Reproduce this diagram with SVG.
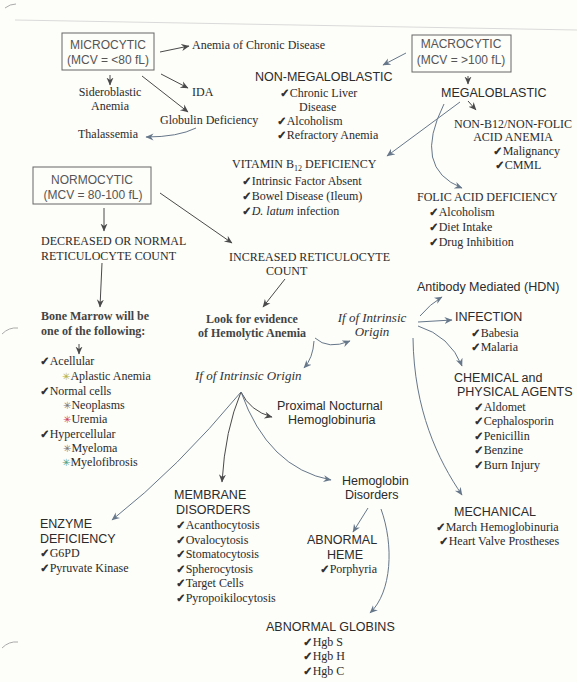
<svg xmlns="http://www.w3.org/2000/svg" width="577" height="682" viewBox="0 0 577 682">
<defs>
<style>
.s{font-family:"Liberation Serif","Times New Roman",serif;font-size:12px;fill:#2b2b2b}
.sb{font-family:"Liberation Serif","Times New Roman",serif;font-size:12px;font-weight:bold;fill:#444}
.i{font-family:"Liberation Serif","Times New Roman",serif;font-size:13px;font-style:italic;fill:#333}
.a{font-family:"Liberation Sans",Arial,sans-serif;font-size:12.5px;fill:#2b2b2b}
.bt{font-family:"Liberation Sans",Arial,sans-serif;font-size:12px;fill:#555;text-anchor:middle}
.ck{font-family:"DejaVu Sans",sans-serif;font-size:11.5px;fill:#2b2b2b;stroke:#2b2b2b;stroke-width:0.7;font-style:normal}
.st{font-family:"DejaVu Sans",sans-serif;font-size:10px}
.box{fill:none;stroke:#666;stroke-width:1}
.c{fill:none;stroke:#4a4a4a;stroke-width:1;marker-end:url(#ah)}
.cb{fill:none;stroke:#66778a;stroke-width:1;marker-end:url(#ahb)}
.m{fill:none;stroke:#aaa;stroke-width:1}
</style>
<marker id="ah" markerWidth="10" markerHeight="10" refX="7.5" refY="4" orient="auto" markerUnits="userSpaceOnUse"><path d="M0,0.5 L8,4 L0,7.5 L2.5,4 Z" fill="#4a4a4a"/></marker>
<marker id="ahb" markerWidth="10" markerHeight="10" refX="7.5" refY="4" orient="auto" markerUnits="userSpaceOnUse"><path d="M0,0.5 L8,4 L0,7.5 L2.5,4 Z" fill="#66778a"/></marker>
</defs>
<rect width="577" height="682" fill="#fdfdf9"/>
<line x1="15" y1="20" x2="577" y2="30" stroke="#dadada" stroke-width="1"/>
<path class="m" d="M5,8 Q10,4 16,4"/>
<path class="m" d="M2,334 Q9,327 18,328"/>
<path class="m" d="M2,648 Q9,641 18,642"/>

<g id="connectors">
<path class="c" d="M160,52 L189,46"/>
<path class="c" d="M161,74 L188,88"/>
<path class="c" d="M142,76 L188,112"/>
<path class="c" d="M110,75 L110,85"/>
<path class="cb" d="M196,128 Q178,137 146,137"/>
<path class="cb" d="M406,53 L383,65"/>
<path class="c" d="M468,76 L468,84"/>
<path class="c" d="M468,101 L476,110"/>
<path class="cb" d="M460,102 L387,156"/>
<path class="cb" d="M444,104 Q412,168 462,188"/>
<path class="c" d="M104,208 L104,231"/>
<path class="c" d="M102,263 L100,307"/>
<path class="c" d="M160,193 L232,243"/>
<path class="c" d="M285,279 L263,307"/>
<path class="c" d="M79,344 L79,354"/>
<path class="cb" d="M315,338 Q328,350 350,341"/>
<path class="cb" d="M314,341 Q313,358 304,368"/>
<path class="cb" d="M420,316 Q430,304 442,297"/>
<path class="cb" d="M418,322 L452,320"/>
<path class="cb" d="M418,326 Q450,336 462,366"/>
<path class="cb" d="M413,338 C414,410 438,460 462,495"/>
<path class="c" d="M241,392 Q250,411 272,417"/>
<path class="c" d="M241,392 Q225,430 222,482"/>
<path class="cb" d="M241,392 Q178,468 112,520"/>
<path class="cb" d="M241,392 Q268,468 331,480"/>
<path class="cb" d="M368,508 L353,532"/>
<path class="cb" d="M381,509 C394,545 392,592 370,613"/>
</g>

<g id="microcytic">
<rect class="box" x="62" y="33" width="92" height="37"/>
<text class="bt" x="108" y="49">MICROCYTIC</text>
<text class="bt" x="108" y="64">(MCV = &lt;80 fL)</text>
</g>
<g id="anemia-chronic"><text class="s" x="192" y="49">Anemia of Chronic Disease</text></g>
<g id="ida"><text class="s" x="192" y="96">IDA</text></g>
<g id="sideroblastic">
<text class="s" x="110" y="96" text-anchor="middle">Sideroblastic</text>
<text class="s" x="110" y="110" text-anchor="middle">Anemia</text>
</g>
<g id="globulin"><text class="s" x="160" y="124">Globulin Deficiency</text></g>
<g id="thalassemia"><text class="s" x="78" y="138">Thalassemia</text></g>

<g id="macrocytic">
<rect class="box" x="412" y="35" width="99" height="37"/>
<text class="bt" x="461" y="48">MACROCYTIC</text>
<text class="bt" x="461" y="64">(MCV = &gt;100 fL)</text>
</g>
<g id="non-megaloblastic">
<text class="a" x="255" y="81">NON-MEGALOBLASTIC</text>
<text class="s" x="280" y="97"><tspan class="ck">✓</tspan>Chronic Liver</text>
<text class="s" x="299" y="111">Disease</text>
<text class="s" x="277" y="125"><tspan class="ck">✓</tspan>Alcoholism</text>
<text class="s" x="277" y="139"><tspan class="ck">✓</tspan>Refractory Anemia</text>
</g>
<g id="megaloblastic"><text class="a" x="441" y="97">MEGALOBLASTIC</text></g>
<g id="non-b12">
<text class="s" x="454" y="128">NON-B12/NON-FOLIC</text>
<text class="s" x="513" y="141" text-anchor="middle">ACID ANEMIA</text>
<text class="s" x="493" y="155"><tspan class="ck">✓</tspan>Malignancy</text>
<text class="s" x="495" y="169"><tspan class="ck">✓</tspan>CMML</text>
</g>
<g id="vitamin-b12">
<text class="s" x="232" y="168">VITAMIN B<tspan font-size="8" dy="3">12</tspan><tspan dy="-3"> DEFICIENCY</tspan></text>
<text class="s" x="242" y="185"><tspan class="ck">✓</tspan>Intrinsic Factor Absent</text>
<text class="s" x="242" y="200"><tspan class="ck">✓</tspan>Bowel Disease (Ileum)</text>
<text class="s" x="242" y="215"><tspan class="ck">✓</tspan><tspan font-style="italic">D. latum</tspan> infection</text>
</g>
<g id="folic">
<text class="s" x="417" y="201">FOLIC ACID DEFICIENCY</text>
<text class="s" x="429" y="216"><tspan class="ck">✓</tspan>Alcoholism</text>
<text class="s" x="429" y="231"><tspan class="ck">✓</tspan>Diet Intake</text>
<text class="s" x="429" y="246"><tspan class="ck">✓</tspan>Drug Inhibition</text>
</g>

<g id="normocytic">
<rect class="box" x="33" y="167" width="118" height="37"/>
<text class="bt" x="92" y="184">NORMOCYTIC</text>
<text class="bt" x="93" y="199">(MCV = 80-100 fL)</text>
</g>
<g id="decreased">
<text class="s" x="41" y="245">DECREASED OR NORMAL</text>
<text class="s" x="41" y="260">RETICULOCYTE COUNT</text>
</g>
<g id="bone-marrow">
<text class="sb" x="41" y="320">Bone Marrow will be</text>
<text class="sb" x="41" y="335">one of the following:</text>
<text class="s" x="40" y="365"><tspan class="ck">✓</tspan>Acellular</text>
<text class="s" x="62" y="380"><tspan class="st" fill="#b5b040">✳</tspan>Aplastic Anemia</text>
<text class="s" x="40" y="395"><tspan class="ck">✓</tspan>Normal cells</text>
<text class="s" x="63" y="409"><tspan class="st" fill="#777">✳</tspan>Neoplasms</text>
<text class="s" x="63" y="423"><tspan class="st" fill="#d04060">✳</tspan>Uremia</text>
<text class="s" x="40" y="438"><tspan class="ck">✓</tspan>Hypercellular</text>
<text class="s" x="63" y="452"><tspan class="st" fill="#777">✳</tspan>Myeloma</text>
<text class="s" x="62" y="466"><tspan class="st" fill="#50a080">✳</tspan>Myelofibrosis</text>
</g>
<g id="increased">
<text class="s" x="229" y="261">INCREASED RETICULOCYTE</text>
<text class="s" x="266" y="275">COUNT</text>
</g>
<g id="look-for">
<text class="sb" x="252" y="323" text-anchor="middle">Look for evidence</text>
<text class="sb" x="252" y="337" text-anchor="middle">of Hemolytic Anemia</text>
</g>
<g id="extrinsic-origin">
<text class="i" x="372" y="322" text-anchor="middle">If of Intrinsic</text>
<text class="i" x="372" y="336" text-anchor="middle">Origin</text>
</g>
<g id="intrinsic-origin"><text class="i" x="195" y="380">If of Intrinsic Origin</text></g>
<g id="antibody"><text class="a" x="417" y="291">Antibody Mediated (HDN)</text></g>
<g id="infection">
<text class="a" x="455" y="321">INFECTION</text>
<text class="s" x="471" y="337"><tspan class="ck">✓</tspan>Babesia</text>
<text class="s" x="471" y="351"><tspan class="ck">✓</tspan>Malaria</text>
</g>
<g id="chemical">
<text class="a" x="454" y="382">CHEMICAL and</text>
<text class="a" x="457" y="396">PHYSICAL AGENTS</text>
<text class="s" x="474" y="411"><tspan class="ck">✓</tspan>Aldomet</text>
<text class="s" x="474" y="425"><tspan class="ck">✓</tspan>Cephalosporin</text>
<text class="s" x="474" y="440"><tspan class="ck">✓</tspan>Penicillin</text>
<text class="s" x="474" y="454"><tspan class="ck">✓</tspan>Benzine</text>
<text class="s" x="474" y="469"><tspan class="ck">✓</tspan>Burn Injury</text>
</g>
<g id="mechanical">
<text class="a" x="454" y="516">MECHANICAL</text>
<text class="s" x="436" y="531"><tspan class="ck">✓</tspan>March Hemoglobinuria</text>
<text class="s" x="439" y="545"><tspan class="ck">✓</tspan>Heart Valve Prostheses</text>
</g>
<g id="proximal">
<text class="a" x="277" y="410">Proximal Nocturnal</text>
<text class="a" x="288" y="424">Hemoglobinuria</text>
</g>
<g id="hemoglobin-disorders">
<text class="a" x="342" y="485">Hemoglobin</text>
<text class="a" x="345" y="499">Disorders</text>
</g>
<g id="membrane">
<text class="a" x="174" y="499" fill="#111">MEMBRANE</text>
<text class="a" x="176" y="514" fill="#111">DISORDERS</text>
<text class="s" x="176" y="529"><tspan class="ck">✓</tspan>Acanthocytosis</text>
<text class="s" x="176" y="544"><tspan class="ck">✓</tspan>Ovalocytosis</text>
<text class="s" x="176" y="558"><tspan class="ck">✓</tspan>Stomatocytosis</text>
<text class="s" x="176" y="573"><tspan class="ck">✓</tspan>Spherocytosis</text>
<text class="s" x="176" y="587"><tspan class="ck">✓</tspan>Target Cells</text>
<text class="s" x="176" y="602"><tspan class="ck">✓</tspan>Pyropoikilocytosis</text>
</g>
<g id="enzyme">
<text class="a" x="40" y="528">ENZYME</text>
<text class="a" x="40" y="543">DEFICIENCY</text>
<text class="s" x="40" y="557"><tspan class="ck">✓</tspan>G6PD</text>
<text class="s" x="40" y="572"><tspan class="ck">✓</tspan>Pyruvate Kinase</text>
</g>
<g id="abnormal-heme">
<text class="a" x="307" y="544">ABNORMAL</text>
<text class="a" x="327" y="559">HEME</text>
<text class="s" x="320" y="573"><tspan class="ck">✓</tspan>Porphyria</text>
</g>
<g id="abnormal-globins">
<text class="a" x="266" y="631">ABNORMAL GLOBINS</text>
<text class="s" x="303" y="646"><tspan class="ck">✓</tspan>Hgb S</text>
<text class="s" x="303" y="660"><tspan class="ck">✓</tspan>Hgb H</text>
<text class="s" x="303" y="675"><tspan class="ck">✓</tspan>Hgb C</text>
</g>
</svg>
